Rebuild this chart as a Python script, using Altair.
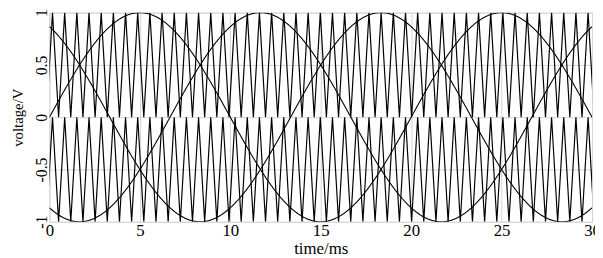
import numpy as np
import pandas as pd
import altair as alt

# --- values ---
x_ticks = [0, 5, 10, 15, 20, 25, 30]
y_ticks = [-1, -0.5, 0, 0.5, 1]
fundamental_period_ms = 20.0          # 50 Hz reference (peaks every 6.67 ms across 3 phases)
phase_names = ["a", "b", "c"]
phase_shift_deg = [0, -120, 120]      # three-phase references, amplitude 1
amplitude = 1.0
carrier_period_ms = 0.673             # triangular carriers (~45 peaks across 30 ms)
carrier_first_peak_ms = 0.17
carrier_names = ["upper", "lower"]
carrier_peak_level = [1.0, 0.0]
carrier_valley_level = [0.0, -1.0]

# --- build tables ---
t = np.linspace(0, 30, 1201)
rows = []
for name, ph in zip(phase_names, phase_shift_deg):
    v = amplitude * np.sin(2 * np.pi * t / fundamental_period_ms + np.deg2rad(ph))
    rows.append(pd.DataFrame({"t": t, "v": v, "s": name}))
sines = pd.concat(rows)

crow = []
for name, hi, lo in zip(carrier_names, carrier_peak_level, carrier_valley_level):
    for k in range(-1, 47):
        tp = carrier_first_peak_ms + k * carrier_period_ms
        crow.append({"t": tp - carrier_period_ms / 2, "v": lo, "c": name, "o": 2 * k})
        crow.append({"t": tp, "v": hi, "c": name, "o": 2 * k + 1})
carriers = pd.DataFrame(crow)

FONT = "Liberation Serif"
xs = alt.Scale(domain=[0, 30], nice=False, zero=False)
ys = alt.Scale(domain=[-1, 1], nice=False)

xax = alt.Axis(values=x_ticks, title="time/ms", ticks=False, tickSize=0, domain=False,
               labelFont=FONT, labelFontSize=17, labelColor="black",
               labelBaseline="alphabetic", labelPadding=14, labelFlush=False,
               titleFont=FONT, titleFontSize=17, titleFontWeight="normal", titleColor="black",
               titleBaseline="alphabetic", titleY=32, titleX=275, titleAlign="center",
               grid=True, gridColor="#d4d4d4", gridWidth=1)
yax = alt.Axis(values=y_ticks, title="voltage/V", ticks=False, tickSize=0, domain=False,
               labelFont=FONT, labelFontSize=16, labelColor="black", labelAngle=-90,
               labelAlign="center", labelBaseline="alphabetic", labelPadding=3,
               labelFlush=False, labelExpr="toString(datum.value)",
               titleFont=FONT, titleFontSize=15, titleFontWeight="normal", titleColor="black",
               titleAngle=-90, titleX=-32, titleY=106, titleAlign="center",
               titleBaseline="middle",
               grid=True, gridColor="#d4d4d4", gridWidth=1)

carrier_chart = alt.Chart(carriers).mark_line(color="black", strokeWidth=1.2, clip=True).encode(
    x=alt.X("t:Q", scale=xs, axis=xax),
    y=alt.Y("v:Q", scale=ys, axis=yax),
    detail="c:N",
    order="o:Q",
)
sine_chart = alt.Chart(sines).mark_line(color="black", strokeWidth=1.1, clip=True).encode(
    x=alt.X("t:Q", scale=xs),
    y=alt.Y("v:Q", scale=ys),
    detail="s:N",
)

chart = alt.layer(carrier_chart, sine_chart).properties(
    width=550, height=212,
    autosize=alt.AutoSizeParams(type="none"),
    padding={"left": 42, "top": 3, "right": 3, "bottom": 35},
).configure_view(stroke="#b5b5b5", strokeWidth=1.5).configure(background="white")

chart.save("out.html", embed_options={"renderer": "svg", "actions": False})
